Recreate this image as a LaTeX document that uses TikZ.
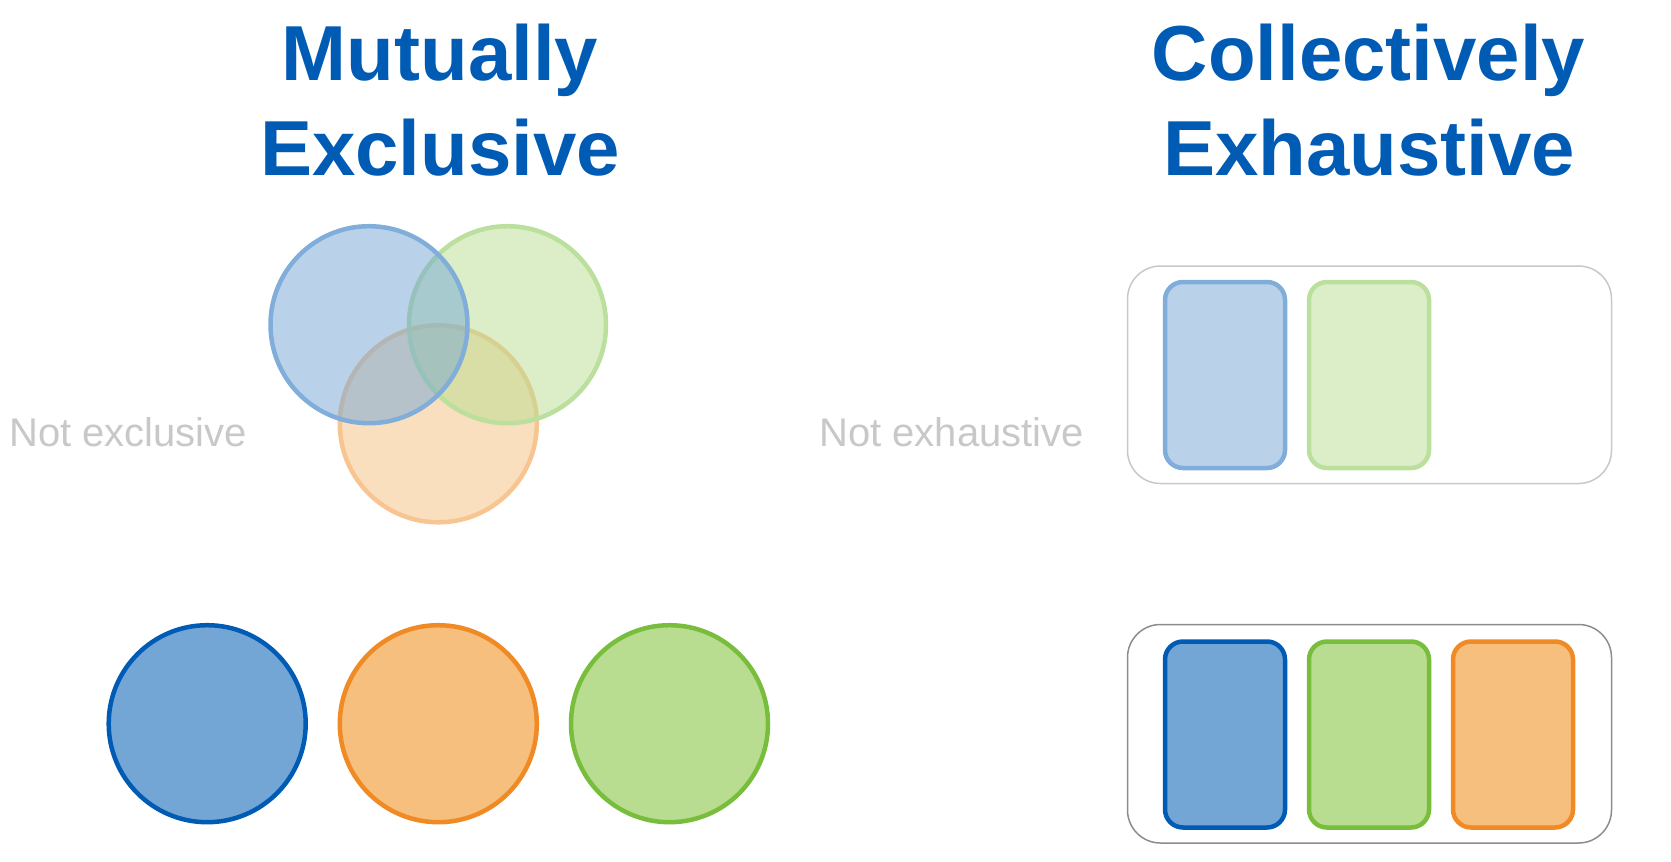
\documentclass[tikz,border=0pt]{standalone}
\usepackage{fontspec}
\setmainfont{Liberation Sans}
\definecolor{titleblue}{HTML}{005BB5}
\definecolor{graytxt}{HTML}{C8C8C8}
\definecolor{bstroke}{HTML}{005BB5}
\definecolor{bfill}{HTML}{73A6D5}
\definecolor{ostroke}{HTML}{F08A24}
\definecolor{ofill}{HTML}{F6BF7E}
\definecolor{gstroke}{HTML}{78BE3C}
\definecolor{gfill}{HTML}{B8DD91}
\definecolor{boxlight}{HTML}{C8C8C8}
\definecolor{boxdark}{HTML}{8C8C8C}
\tikzset{
  title/.style={anchor=base, text=titleblue, font=\fontsize{78}{94}\selectfont\bfseries, inner sep=0pt},
  note/.style={anchor=base west, text=graytxt, font=\fontsize{40}{48}\selectfont, inner sep=0pt},
  disc/.style={circle, minimum size=197pt, inner sep=0pt, line width=4.5pt},
  tile/.style={rectangle, rounded corners=18pt, minimum width=120pt, minimum height=186pt, inner sep=0pt, line width=4.5pt},
  frame/.style={rectangle, rounded corners=33pt, minimum width=484pt, inner sep=0pt, line width=1.5pt},
  blueset/.style={draw=bstroke, fill=bfill},
  orangeset/.style={draw=ostroke, fill=ofill},
  greenset/.style={draw=gstroke, fill=gfill},
  blueset faded/.style={draw=bstroke!50!white, fill=bfill, fill opacity=0.5},
  orangeset faded/.style={draw=ostroke!50!white, fill=ofill, fill opacity=0.5},
  greenset faded/.style={draw=gstroke!50!white, fill=gfill, fill opacity=0.5},
}
\begin{document}
\begin{tikzpicture}[x=1pt,y=-1pt]
\useasboundingbox (0,0) rectangle (1671,862);
% titles
\node[title] (t1) at (440,80) {Mutually};
\node[title] (t2) at (440,175) {Exclusive};
\node[title] (t3) at (1368.5,80) {Collectively};
\node[title] (t4) at (1369,175) {Exhaustive};
% notes
\node[note] (n1) at (9,446.5) {Not exclusive};
\node[note] (n2) at (819,446.5) {Not exhaustive};
% venn (not exclusive)
\node[disc, orangeset faded] (vo) at (438.3,423.8) {};
\node[disc, greenset faded] (vg) at (507.5,324.7) {};
\node[disc, blueset faded] (vb) at (369,324.7) {};
% exclusive circles
\node[disc, blueset] (cb) at (207.2,723.7) {};
\node[disc, orangeset] (co) at (438.3,723.7) {};
\node[disc, greenset] (cg) at (669.5,723.7) {};
% not exhaustive
\node[frame, draw=boxlight, minimum height=217.5pt] (f1) at (1369.5,374.75) {};
\node[tile, blueset faded] (rb1) at (1225,375) {};
\node[tile, greenset faded] (rg1) at (1369,375) {};
% exhaustive
\node[frame, draw=boxdark, minimum height=218.5pt] (f2) at (1369.5,733.75) {};
\node[tile, blueset] (rb2) at (1225,734.5) {};
\node[tile, greenset] (rg2) at (1369,734.5) {};
\node[tile, orangeset] (ro2) at (1513,734.5) {};
\end{tikzpicture}
\end{document}
